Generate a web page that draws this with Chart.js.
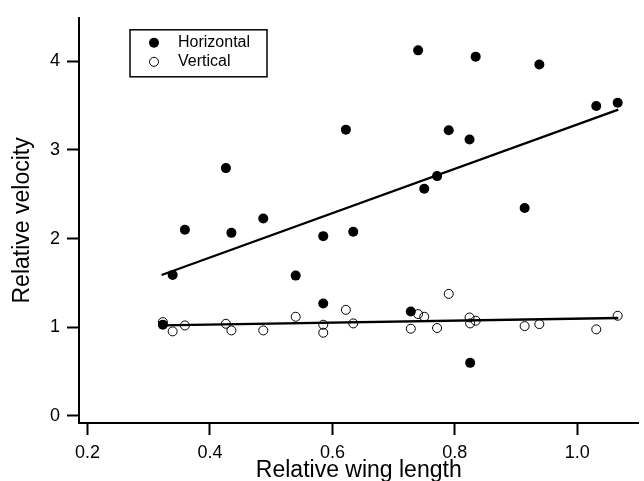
<!DOCTYPE html>
<html><head><meta charset="utf-8">
<script src="https://cdn.jsdelivr.net/npm/chart.js@4/dist/chart.umd.min.js"></script>
<style>html,body{margin:0;padding:0;background:#fff;overflow:hidden;}canvas{display:block;}</style>
</head><body>
<canvas id="c" width="644" height="490"></canvas>
<script>
const wingLength = [0.323, 0.339, 0.359, 0.426, 0.435, 0.487, 0.540, 0.585, 0.585, 0.622, 0.634, 0.728, 0.740, 0.750, 0.771, 0.790, 0.824, 0.834, 0.825, 0.914, 0.938, 1.031, 1.066];
const horizontalVelocity = [1.03, 1.59, 2.10, 2.795, 2.065, 2.226, 1.583, 2.028, 1.268, 3.229, 2.077, 1.179, 4.123, 2.563, 2.705, 3.222, 3.117, 4.052, 0.599, 2.346, 3.963, 3.495, 3.532];
const verticalVelocity = [1.059, 0.954, 1.021, 1.040, 0.965, 0.965, 1.119, 1.029, 0.939, 1.197, 1.044, 0.984, 1.149, 1.119, 0.992, 1.377, 1.111, 1.074, 1.044, 1.014, 1.036, 0.977, 1.130];
const horizontalFitX = [0.321, 1.067];
const horizontalFitY = [1.59, 3.454];
const verticalFitX = [0.321, 1.067];
const verticalFitY = [1.021, 1.105];
const xTicks = [0.2, 0.4, 0.6, 0.8, 1.0];
const yTicks = [0, 1, 2, 3, 4];
const seriesNames = ['Horizontal', 'Vertical'];
const xTitle = 'Relative wing length';
const yTitle = 'Relative velocity';

const FONT = '"Liberation Sans", Arial, Helvetica, sans-serif';
const toPts = (xs, ys) => xs.map((x, i) => ({x: x, y: ys[i]}));

const boxLegend = {
  id: 'boxLegend',
  afterDatasetsDraw(chart) {
    const {ctx, chartArea: a} = chart;
    ctx.save();
    const x0 = a.left + 51, y0 = a.top + 12;
    ctx.lineWidth = 1.5;
    ctx.strokeStyle = '#000';
    ctx.strokeRect(x0, y0, 137, 47);
    ctx.fillStyle = '#000';
    ctx.beginPath(); ctx.arc(x0 + 24, y0 + 13, 5, 0, Math.PI * 2); ctx.fill();
    ctx.lineWidth = 1;
    ctx.beginPath(); ctx.arc(x0 + 24, y0 + 32, 4.5, 0, Math.PI * 2); ctx.stroke();
    ctx.font = '16px ' + FONT;
    ctx.textBaseline = 'middle';
    ctx.textAlign = 'left';
    ctx.fillText(seriesNames[0], x0 + 48, y0 + 13);
    ctx.fillText(seriesNames[1], x0 + 48, y0 + 32);
    ctx.restore();
  }
};

const axisCommon = {
  type: 'linear',
  grid: {display: true, drawOnChartArea: false, drawTicks: true, tickLength: 12, tickColor: '#000', tickWidth: 2},
  border: {display: true, color: '#000', width: 2},
};

new Chart(document.getElementById('c'), {
  type: 'scatter',
  data: {
    datasets: [
      {label: seriesNames[0], data: toPts(wingLength, horizontalVelocity), pointRadius: 5, pointBackgroundColor: '#000', pointBorderColor: '#000', pointBorderWidth: 0, order: 1},
      {label: seriesNames[1], data: toPts(wingLength, verticalVelocity), pointRadius: 4.5, pointBackgroundColor: 'rgba(0,0,0,0)', pointBorderColor: '#000', pointBorderWidth: 1, order: 2},
      {label: 'fitH', data: toPts(horizontalFitX, horizontalFitY), showLine: true, pointRadius: 0, borderColor: '#000', borderWidth: 2.3, order: 3},
      {label: 'fitV', data: toPts(verticalFitX, verticalFitY), showLine: true, pointRadius: 0, borderColor: '#000', borderWidth: 2.3, order: 4}
    ]
  },
  options: {
    responsive: false,
    animation: false,
    devicePixelRatio: 1,
    layout: {padding: {top: 15, right: 5, left: 0, bottom: 0}},
    plugins: {legend: {display: false}, tooltip: {enabled: false}},
    scales: {
      x: Object.assign({}, axisCommon, {
        min: 0.186, max: 1.1,
        afterBuildTicks: s => { s.ticks = xTicks.map(v => ({value: v})); },
        afterFit: s => { s.height = 67; },
        ticks: {callback: v => Number(v).toFixed(1), font: {size: 18, family: FONT}, color: '#000', padding: 7, maxRotation: 0, autoSkip: false},
        title: {display: true, text: xTitle, color: '#000', font: {size: 23, family: FONT}, padding: {top: 0, bottom: 6}}
      }),
      y: Object.assign({}, axisCommon, {
        min: -0.079, max: 4.49,
        afterBuildTicks: s => { s.ticks = yTicks.map(v => ({value: v})); },
        afterFit: s => { s.width = 79; },
        ticks: {callback: v => String(v), font: {size: 18, family: FONT}, color: '#000', padding: 7, autoSkip: false},
        title: {display: true, text: yTitle, color: '#000', font: {size: 23, family: FONT}, padding: {top: 9, bottom: 0}}
      })
    }
  },
  plugins: [boxLegend]
});
</script>
</body></html>
